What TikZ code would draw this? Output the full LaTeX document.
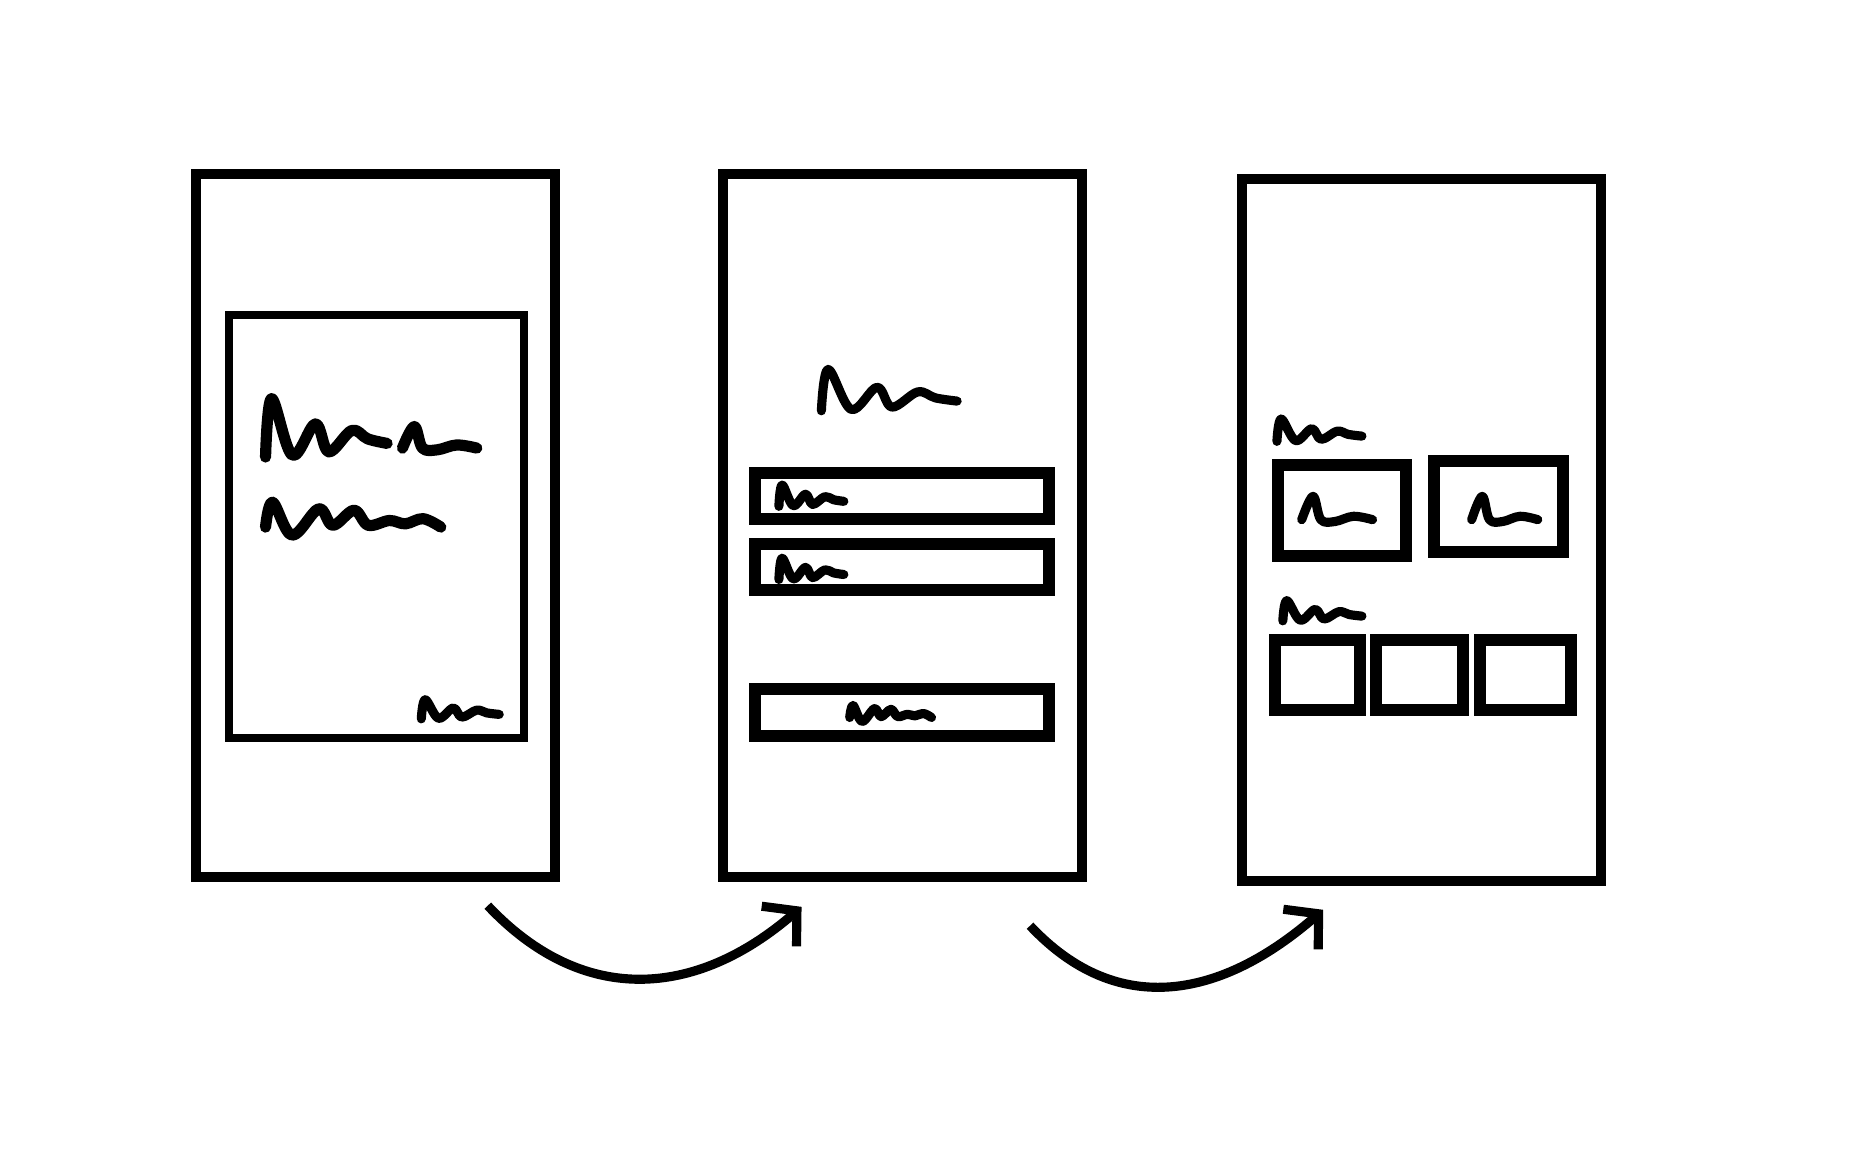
\documentclass[tikz,border=0pt]{standalone}
\usepackage{tikz}
\usetikzlibrary{arrows.meta}

\begin{document}
\begin{tikzpicture}[x=0.01cm, y=-0.01cm,
    phone/.style={draw, line width=2.4pt, minimum width=3.04cm, minimum height=5.95cm, inner sep=0pt},
    box/.style={line width=2.9pt},
    scribble/.style={line width=2.2pt, line cap=round, line join=round},
    flow/.style={line width=2.2pt, -{Straight Barb[length=0.2cm, width=0.45cm]}},
    word/.pic={\draw[scribble] plot[smooth, tension=0.6] coordinates {(0,-0.05) (0.05,-0.95) (0.22,-0.08) (0.41,-0.56) (0.52,-0.13) (0.71,-0.46) (0.84,-0.33) (1,-0.26)};},
    wave/.pic={\draw[scribble] plot[smooth, tension=0.6] coordinates {(0,-0.27) (0.04,-0.95) (0.15,-0.05) (0.3,-0.77) (0.38,-0.32) (0.5,-0.73) (0.58,-0.32) (0.7,-0.45) (0.79,-0.36) (0.89,-0.5) (0.99,-0.27)};},
    tick/.pic={\draw[scribble] plot[smooth, tension=0.6] coordinates {(0,-0.18) (0.16,-0.94) (0.27,-0.18) (0.47,-0.12) (0.73,-0.29) (1,-0.18)};}]

				\useasboundingbox (0,0) rectangle (1571,980.4);

				% Phones
				\node[phone] (p1) at (318,445.5) {};
				\node[phone] (p2) at (764.5,445.5) {};
				\node[phone] (p3) at (1204.5,449) {};

				% Screen 1: card with text
				\draw[line width=1.9pt] (194,267) rectangle (444,625);
				\pic[xscale=103, yscale=55, scribble/.append style={line width=2.7pt}] at (225,390) {word};
				\pic[xscale=63, yscale=24, scribble/.append style={line width=2.7pt}] at (341,384) {tick};
				\pic[xscale=150, yscale=31, scribble/.append style={line width=2.7pt}] at (225,455) {wave};
				\pic[xscale=66, yscale=18] at (357,610) {word};

				% Screen 2: form
				\pic[xscale=115, yscale=39] at (696,350) {word};
				\draw[box] (640,401) rectangle (889,440);
				\draw[box] (640,461) rectangle (889,500);
				\draw[box] (640,584) rectangle (889,624);
				\pic[xscale=55, yscale=20] at (660,430) {word};
				\pic[xscale=55, yscale=20] at (660,492) {word};
				\pic[xscale=70, yscale=15] at (720,612) {wave};

				% Screen 3: sections
				\pic[xscale=72, yscale=21] at (1082,375) {word};
				\draw[box] (1083,394) rectangle (1191,471);
				\draw[box] (1215,391) rectangle (1324,468);
				\pic[xscale=60, yscale=26] at (1103,445) {tick};
				\pic[xscale=56, yscale=26] at (1247,445) {tick};
				\pic[xscale=67, yscale=19] at (1087,527) {word};
				\draw[box] (1080,542) rectangle (1152,602);
				\draw[box] (1166,542) rectangle (1240,602);
				\draw[box] (1254,542) rectangle (1331,602);

				% Arrows between screens
				\coordinate (a1s) at ([shift={(-61,20)}]p1.south east);
				\coordinate (a1e) at ([shift={(71,21)}]p2.south west);
				\coordinate (a2s) at ([shift={(-48,37)}]p2.south east);
				\coordinate (a2e) at ([shift={(73,20)}]p3.south west);
				\draw[flow] (a1s) .. controls +(80,85) and +(-90,78) .. (a1e);
				\draw[flow] (a2s) .. controls +(75,80) and +(-85,74) .. (a2e);

\end{tikzpicture}
\end{document}
